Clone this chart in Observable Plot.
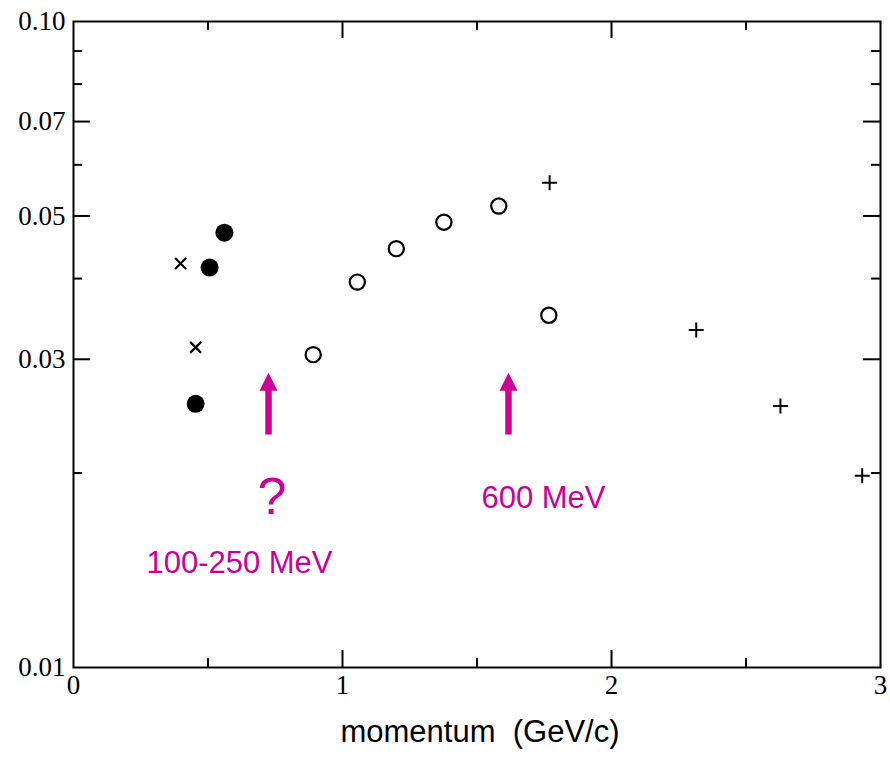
<!DOCTYPE html>
<html>
<head>
<meta charset="utf-8">
<script src="https://cdn.jsdelivr.net/npm/d3@7"></script>
<script src="https://cdn.jsdelivr.net/npm/@observablehq/plot@0.6"></script>
<style>
  html, body { margin: 0; padding: 0; background: #fff; }
  svg text { white-space: pre; }
</style>
</head>
<body>
<div id="chart"></div>
<script>
// ---- data ----
const filledCircles = [
  {p: 0.561, v: 0.0471},
  {p: 0.506, v: 0.0416},
  {p: 0.454, v: 0.0256}
];
const crosses = [
  {p: 0.398, v: 0.0422},
  {p: 0.454, v: 0.0313}
];
const openCircles = [
  {p: 0.891, v: 0.0305},
  {p: 1.055, v: 0.0395},
  {p: 1.200, v: 0.0445},
  {p: 1.377, v: 0.0489},
  {p: 1.581, v: 0.0518},
  {p: 1.767, v: 0.0351}
];
const pluses = [
  {p: 1.770, v: 0.0563},
  {p: 2.315, v: 0.0333},
  {p: 2.628, v: 0.0254},
  {p: 2.932, v: 0.0198}
];
const arrows = [
  {p: 0.725, tip: 0.0286, base: 0.0229},
  {p: 1.617, tip: 0.0286, base: 0.0229}
];
const annotations = [
  {p: 0.738, v: 0.01731, text: "?", big: true},
  {p: 1.747, v: 0.01763, text: "600 MeV", big: false},
  {p: 0.617, v: 0.01403, text: "100-250 MeV", big: false}
];
const xTickLabels = [0, 1, 2, 3];
const xMinorTicks = [0.5, 1.5, 2.5];
const xMajorTicks = [1, 2];
const yTickLabels = [0.01, 0.03, 0.05, 0.07, 0.10];
const yMajorTicks = [0.03, 0.05, 0.07];
const yMinorTicks = [0.02, 0.04, 0.06, 0.08, 0.09];
const xLabel = "momentum\u00a0\u00a0(GeV/c)";

// ---- layout / style ----
const W = 890, H = 759;
const mL = 73, mR = 10, mT = 21, mB = 92;
const fw = W - mL - mR, fh = H - mT - mB;
const MAG = "#cc0099";
const serif = "'Liberation Serif', 'Times New Roman', serif";
const sans = "'Liberation Sans', Arial, Helvetica, sans-serif";
const majorLen = 17, minorLen = 9;

const timesSym = {draw(ctx) { const r = 5.5; ctx.moveTo(-r, -r); ctx.lineTo(r, r); ctx.moveTo(-r, r); ctx.lineTo(r, -r); }};
const plusSym = {draw(ctx) { const r = 7.5; ctx.moveTo(-r, 0); ctx.lineTo(r, 0); ctx.moveTo(0, -r); ctx.lineTo(0, r); }};
const headSym = {draw(ctx) { ctx.moveTo(0, 0); ctx.lineTo(9, 18); ctx.lineTo(-9, 18); ctx.closePath(); }};

const chart = Plot.plot({
  width: W, height: H,
  marginLeft: mL, marginRight: mR, marginTop: mT, marginBottom: mB,
  style: {fontFamily: serif, fontSize: "27px", background: "#fff", color: "#000"},
  x: {domain: [0, 3]},
  y: {type: "log", domain: [0.01, 0.1]},
  marks: [
    // tick marks (inward, mirrored)
    Plot.tickY(yMajorTicks, {y: d => d, insetRight: fw - majorLen, strokeWidth: 2}),
    Plot.tickY(yMajorTicks, {y: d => d, insetLeft: fw - majorLen, strokeWidth: 2}),
    Plot.tickY(yMinorTicks, {y: d => d, insetRight: fw - minorLen, strokeWidth: 2}),
    Plot.tickY(yMinorTicks, {y: d => d, insetLeft: fw - minorLen, strokeWidth: 2}),
    Plot.tickX(xMajorTicks, {x: d => d, insetTop: fh - majorLen, strokeWidth: 2}),
    Plot.tickX(xMajorTicks, {x: d => d, insetBottom: fh - majorLen, strokeWidth: 2}),
    Plot.tickX(xMinorTicks, {x: d => d, insetTop: fh - minorLen, strokeWidth: 2}),
    Plot.tickX(xMinorTicks, {x: d => d, insetBottom: fh - minorLen, strokeWidth: 2}),
    Plot.frame({stroke: "#000", strokeWidth: 2}),
    Plot.axisY({ticks: yTickLabels, tickFormat: d3.format(".2f"), tickSize: 0, tickPadding: 8, label: null, fontFamily: serif, fontSize: 27}),
    Plot.axisX({ticks: xTickLabels, tickFormat: d3.format("d"), tickSize: 0, tickPadding: 7, label: null, fontFamily: serif, fontSize: 27}),
    Plot.text([xLabel], {text: d => d, frameAnchor: "bottom", dy: 74, dx: 3, lineAnchor: "bottom", fontFamily: sans, fontSize: 31, fill: "#000"}),
    // arrows
    Plot.ruleX(arrows, {x: "p", y1: "tip", y2: "base", stroke: MAG, strokeWidth: 6.5, insetTop: 12}),
    Plot.dot(arrows, {x: "p", y: "tip", symbol: headSym, fill: MAG, stroke: "none"}),
    // annotations
    Plot.text(annotations.filter(d => !d.big), {x: "p", y: "v", text: "text", lineAnchor: "bottom", fill: MAG, fontFamily: sans, fontSize: 31}),
    Plot.text(annotations.filter(d => d.big), {x: "p", y: "v", text: "text", lineAnchor: "bottom", fill: MAG, fontFamily: sans, fontSize: 52}),
    // data
    Plot.dot(filledCircles, {x: "p", y: "v", r: 9, fill: "#000", stroke: "none"}),
    Plot.dot(openCircles, {x: "p", y: "v", r: 7.6, fill: "none", stroke: "#000", strokeWidth: 2.2}),
    Plot.dot(crosses, {x: "p", y: "v", symbol: timesSym, fill: "none", stroke: "#000", strokeWidth: 2.2}),
    Plot.dot(pluses, {x: "p", y: "v", symbol: plusSym, fill: "none", stroke: "#000", strokeWidth: 2})
  ]
});
document.getElementById("chart").appendChild(chart);
</script>
</body>
</html>
